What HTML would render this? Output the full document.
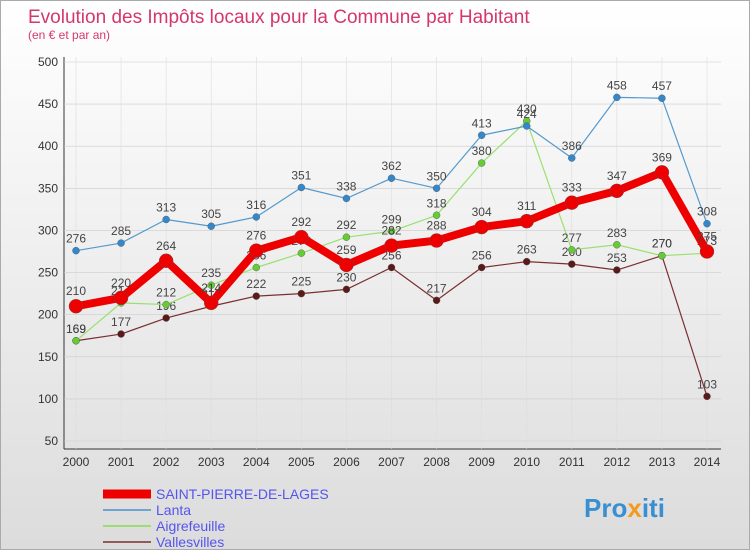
<!DOCTYPE html>
<html><head><meta charset="utf-8"><style>
body{margin:0;width:750px;height:550px;overflow:hidden;font-family:"Liberation Sans",sans-serif}
#wrap{position:relative;width:748px;height:548px;border:1px solid #aaa;background:linear-gradient(#ffffff,#dcdcdc)}
</style></head><body>
<div id="wrap">
<svg id="chart" width="748" height="548" xmlns="http://www.w3.org/2000/svg">
<text x="27" y="22" font-size="19" fill="#d4386a">Evolution des Impôts locaux pour la Commune par Habitant</text>
<text x="27" y="38" font-size="12" fill="#d4386a">(en € et par an)</text>
<g id="grid"></g><g id="series"></g>
<g>
<line x1="102" y1="493" x2="150" y2="493" stroke="#ee0000" stroke-width="9"/>
<text x="155" y="498" font-size="14" fill="#5555ee">SAINT-PIERRE-DE-LAGES</text>
<line x1="102" y1="509" x2="150" y2="509" stroke="#4a90c8" stroke-width="1.5"/>
<text x="155" y="514" font-size="14" fill="#5555ee">Lanta</text>
<line x1="102" y1="525" x2="150" y2="525" stroke="#88dd55" stroke-width="1.5"/>
<text x="155" y="530" font-size="14" fill="#5555ee">Aigrefeuille</text>
<line x1="102" y1="541" x2="150" y2="541" stroke="#7a3030" stroke-width="1.5"/>
<text x="155" y="546" font-size="14" fill="#5555ee">Vallesvilles</text>
</g>
<text x="583" y="516" font-size="26" font-weight="bold" fill="#3a8fd0">Pro<tspan fill="#f39a1e">x</tspan>iti</text>
</svg></div>
<script>
const years=[2000,2001,2002,2003,2004,2005,2006,2007,2008,2009,2010,2011,2012,2013,2014];
const yTicks=[50,100,150,200,250,300,350,400,450,500];
const stPierre=[210,220,264,214,276,292,259,282,288,304,311,333,347,369,275];
const lanta=[276,285,313,305,316,351,338,362,350,413,424,386,458,457,308];
const aigrefeuille=[169,214,212,235,256,273,292,299,318,380,430,277,283,270,273];
const vallesvilles=[169,177,196,210,222,225,230,256,217,256,263,260,253,270,103];
const NS="http://www.w3.org/2000/svg";
const X0=75,X1=706,Y50=440,Y500=61;
const xs=i=>X0+(X1-X0)*i/(years.length-1);
const ys=v=>Y50+(Y500-Y50)*(v-50)/450;
function mk(tag,attrs,parent){const e=document.createElementNS(NS,tag);for(const k in attrs)e.setAttribute(k,attrs[k]);parent.appendChild(e);return e;}
const g=document.getElementById('grid');
const ax=mk('line',{x1:63,y1:56,x2:63,y2:448,stroke:'#333'},g);


const bx=mk('line',{x1:63,y1:448,x2:720,y2:448,stroke:'#333'},g);


yTicks.forEach(v=>{
 const gl=mk('line',{x1:63,x2:720,y1:ys(v),y2:ys(v),stroke:'#ccc','stroke-width':0.6},g);
 
 
 const t=mk('text',{x:57,y:ys(v)+4,'font-size':12,fill:'#333','text-anchor':'end'},g);t.textContent=v;
 
 
});
years.forEach((y,i)=>{
 const gl=mk('line',{x1:xs(i),x2:xs(i),y1:56,y2:448,stroke:'#ddd','stroke-width':0.6},g);
 
 
 const t=mk('text',{x:xs(i),y:465,'font-size':12,fill:'#333','text-anchor':'middle'},g);t.textContent=y;
 
 
});
const s=document.getElementById('series');
function draw(name,data,color,w,r,dot){
 const grp=mk('g',{},s);
 
 
 const pl=mk('polyline',{points:data.map((v,i)=>xs(i)+','+ys(v)).join(' '),fill:'none',stroke:color,'stroke-width':w,'stroke-linejoin':'round'},grp);
 
 
 data.forEach((v,i)=>{
  const c=mk('circle',{cx:xs(i),cy:ys(v),r:r,fill:dot,stroke:'#555','stroke-width':0.4},grp);
  
  
  const t=mk('text',{x:xs(i),y:ys(v)-8-(r>5?3:0),'font-size':12,fill:'#444','text-anchor':'middle'},grp);t.textContent=v;
  
  
 });
}
draw('vallesvilles',vallesvilles,'#7a3030',1.2,3.5,'#5a1a1a');
draw('aigrefeuille',aigrefeuille,'#99e070',1.2,3.5,'#66cc33');
draw('lanta',lanta,'#5599cc',1.2,3.5,'#3388cc');
draw('saint-pierre',stPierre,'#ee0000',8,7,'#ee0000');
</script>
</body></html>
